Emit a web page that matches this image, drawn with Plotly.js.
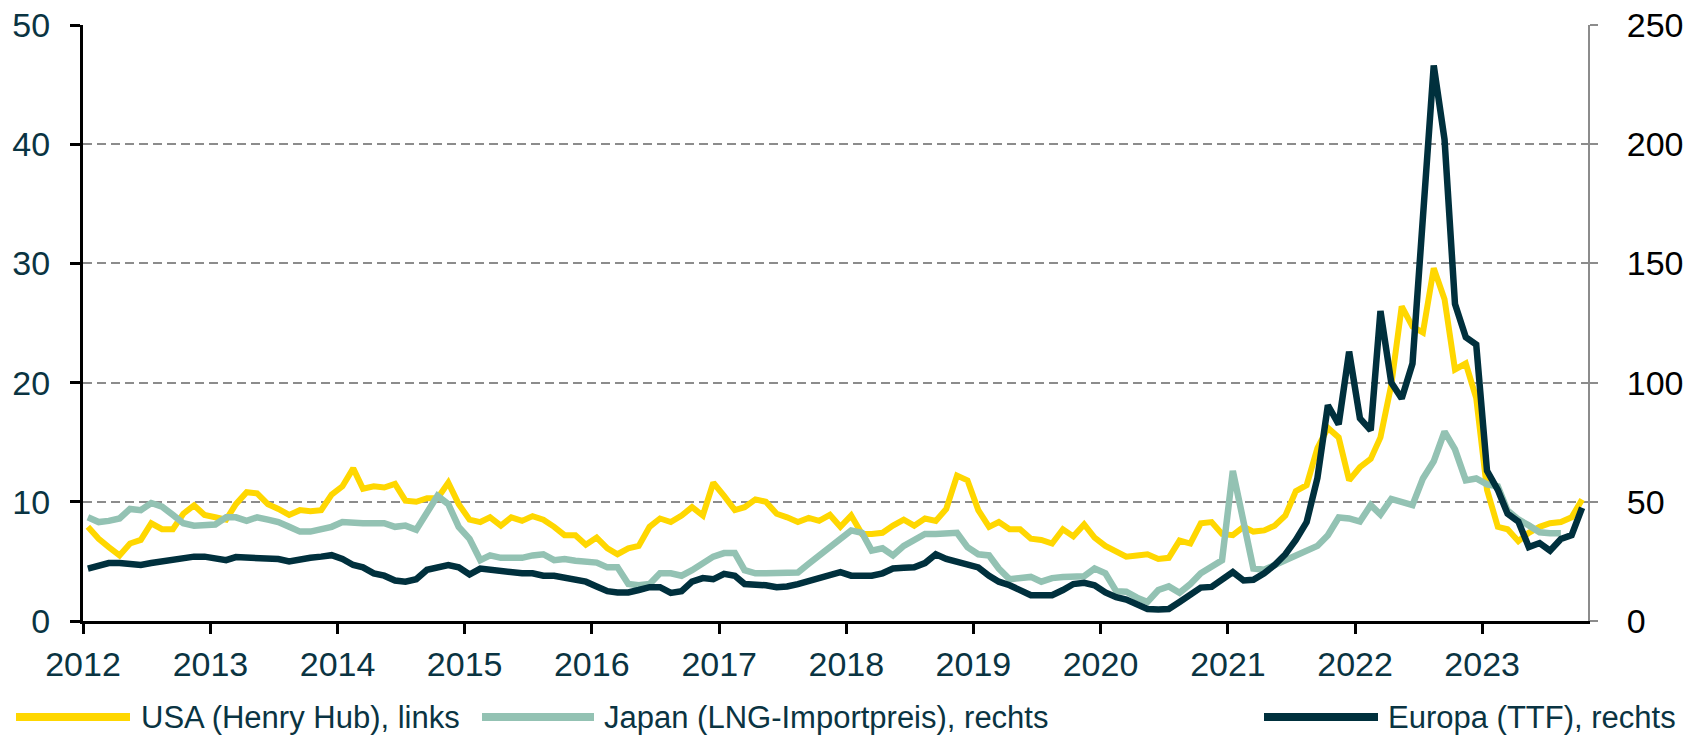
<!DOCTYPE html>
<html><head><meta charset="utf-8">
<script src="https://cdn.plot.ly/plotly-3.0.1.min.js"></script>
<style>html,body{margin:0;padding:0;background:#fff;}#chart{width:1684px;height:738px;}</style>
</head><body><div id="chart"></div>
<script>
// Monthly data, January 2012 - October 2023 (EUR/MWh)
const startYear = 2012;
const startMonth = 1;

const usaHenryHub = [
  7.9,6.9,6.2,5.5,6.5,6.8,8.2,7.7,7.7,9.0,9.7,8.9,
  8.7,8.5,9.8,10.8,10.7,9.8,9.4,8.9,9.3,9.2,9.3,10.6,
  11.3,12.8,11.1,11.3,11.2,11.5,10.1,10.0,10.3,10.3,11.6,9.8,
  8.5,8.3,8.7,8.0,8.7,8.4,8.8,8.5,7.9,7.2,7.2,6.4,
  7.0,6.1,5.6,6.1,6.3,7.9,8.6,8.3,8.85,9.55,8.85,11.6,
  10.5,9.3,9.55,10.2,10.0,9.0,8.7,8.3,8.65,8.4,8.9,7.9,
  8.85,7.3,7.3,7.4,8.0,8.5,8.0,8.6,8.4,9.4,12.2,11.8,
  9.3,7.9,8.3,7.7,7.7,6.9,6.8,6.5,7.7,7.1,8.1,7.0,
  6.3,5.9,5.4,5.5,5.6,5.2,5.3,6.75,6.5,8.2,8.3,7.3,
  7.2,7.9,7.5,7.6,8.0,8.85,10.9,11.4,14.5,16.2,15.4,11.8,
  12.9,13.6,15.4,19.8,26.4,24.7,24.2,29.6,27.0,21.1,21.6,18.7,
  11.0,7.9,7.7,6.7,7.4,7.9,8.2,8.3,8.7,10.2
];

const japanLng = [
  43.5,41.5,42,43,47,46.5,49.5,48,44.5,41,40,40.3,
  40.5,43.5,43.5,42,43.5,42.5,41.5,39.5,37.5,37.5,38.5,39.5,
  41.5,41,41,41,41,39.5,40,38.3,45,52.5,49,39.5,
  34.5,25.5,27.5,26.5,26.5,26.5,27.5,28,25.5,26,25.3,25,
  24.5,22.5,22.5,15.5,15,15.5,20,20,19,21.3,24,27,
  28.5,28.5,21.3,20,20,20,20,20.3,24,27.5,31,35,
  38,37,29.5,30.5,27.5,31.5,34,36.5,36.5,36.5,37,31,
  28,27.5,22,17.5,18,18.5,16.5,18,18.5,18.8,18.8,22,
  20,12.5,12.3,9.8,8,13,14.5,11.8,15.5,20,23,25.5,
  63,42.5,22,21.5,23.5,26,28,29.5,31.5,36,43.4,43,
  41.7,48.6,44.7,51.2,50,48.6,59.8,67,79.4,72,59,59.8,
  57.3,56.5,46.3,42.6,40.1,37.2,36.8,36.8,null,null
];

const europaTtf = [
  22,23.5,24.3,24.3,24,23.5,24.3,25,25.2,26.5,27,27,
  26.5,25.5,26.8,26.5,26,26,26,25,26,26.5,27,27.6,
  26,23.5,22.5,20,19,17,16.5,17.5,21.5,22.5,23.5,22.5,
  19.5,22,21.5,21,20,20,20,19,19,18,17.3,16.5,
  14.5,12.5,12,12,13,14.2,14.2,11.8,12.5,16.5,18,17.5,
  19.8,19,15.5,15.5,15,14.2,14.5,15.5,16.8,17.5,19,20.5,
  19,19,19,20,22,22.3,22.5,24.3,28,26,25,24,
  22.5,19,16.5,15,13,10.8,10.8,10.8,13,15.5,16,15,
  12,10,9,7.3,5,4.8,5,8,11,14,14.3,17,
  20.5,17,17.3,20,23.5,28,34,41.5,60,90.5,82.5,113,
  85,80,130,100,93.3,108,171,233,202,133,119,116,
  63,55,45,41.7,31,32.7,29.5,34.4,36,47.5
];

const seriesNames = ['USA (Henry Hub), links', 'Japan (LNG-Importpreis), rechts', 'Europa (TTF), rechts'];
const yearLabels = ['2012','2013','2014','2015','2016','2017','2018','2019','2020','2021','2022','2023'];
const leftTicks = [0,10,20,30,40,50];
const rightTicks = [0,50,100,150,200,250];

// month positions (mid-month, as the source plots between the monthly tick marks)
const months = usaHenryHub.map((_, i) => {
  const m = startMonth - 1 + i;
  const y = startYear + Math.floor(m / 12);
  const mm = (m % 12) + 1;
  return y + '-' + String(mm).padStart(2, '0') + '-15';
});

const colors = {usa: '#FFD700', japan: '#93C2B3', europe: '#00303D', text: '#0A3442', grid: '#8C8C8C'};
const FONT = 'Liberation Sans, Arial, sans-serif';
const FS = 34;
const LFS = 31;

const traces = [
  {x: months, y: usaHenryHub, name: seriesNames[0], type: 'scatter', mode: 'lines', yaxis: 'y',
   line: {color: colors.usa, width: 6}},
  {x: months, y: japanLng, name: seriesNames[1], type: 'scatter', mode: 'lines', yaxis: 'y2',
   line: {color: colors.japan, width: 6.5}},
  {x: months, y: europaTtf, name: seriesNames[2], type: 'scatter', mode: 'lines', yaxis: 'y2',
   line: {color: colors.europe, width: 6.5}}
];

const W = 1684, H = 738;
const M = {l: 83, r: 96, t: 25, b: 117};
const pw = W - M.l - M.r, ph = H - M.t - M.b;
const px2x = px => (px - M.l) / pw;
const py2y = py => (H - M.b - py) / ph;

// custom legend (long line samples as in the source)
const legendItems = [
  {x0: 16, x1: 130, tx: 139, color: colors.usa, name: seriesNames[0]},
  {x0: 482, x1: 594, tx: 602, color: colors.japan, name: seriesNames[1]},
  {x0: 1264, x1: 1378, tx: 1386, color: colors.europe, name: seriesNames[2]}
];
const legY = py2y(717);
const shapes = legendItems.map(it => ({type: 'line', xref: 'paper', yref: 'paper',
  x0: px2x(it.x0), x1: px2x(it.x1), y0: legY, y1: legY, line: {color: it.color, width: 8}}));
const annotations = legendItems.map(it => ({xref: 'paper', yref: 'paper', x: px2x(it.tx), y: legY,
  xanchor: 'left', yanchor: 'middle', showarrow: false, text: it.name,
  font: {family: FONT, size: LFS, color: colors.text}}));

const layout = {
  width: W, height: H,
  margin: {l: M.l, r: M.r, t: M.t, b: M.b, pad: 0, autoexpand: false},
  paper_bgcolor: '#ffffff', plot_bgcolor: '#ffffff',
  showlegend: false,
  font: {family: FONT, size: FS, color: colors.text},
  xaxis: {
    type: 'date', range: ['2012-01-01', '2023-11-01'],
    tickmode: 'array', tickvals: yearLabels.map(y => y + '-01-01'), ticktext: yearLabels,
    showgrid: false, zeroline: false,
    showline: true, linecolor: '#000000', linewidth: 3,
    ticks: 'outside', ticklen: 10, tickwidth: 3, tickcolor: '#000000',
    ticklabelstandoff: 1,
    tickfont: {family: FONT, size: FS, color: colors.text}
  },
  yaxis: {
    range: [0, 50], tickmode: 'array', tickvals: leftTicks,
    showgrid: true, gridcolor: colors.grid, gridwidth: 2, griddash: '9px,5px',
    zeroline: false, showline: true, linecolor: '#000000', linewidth: 3,
    ticks: 'outside', ticklen: 10, tickwidth: 3, tickcolor: '#000000',
    ticklabelstandoff: 13,
    tickfont: {family: FONT, size: FS, color: colors.text}
  },
  yaxis2: {
    range: [0, 250], tickmode: 'array', tickvals: rightTicks,
    overlaying: 'y', side: 'right', showgrid: false, zeroline: false,
    showline: true, linecolor: colors.grid, linewidth: 2,
    ticks: 'outside', ticklen: 8, tickwidth: 2, tickcolor: colors.grid,
    ticklabelstandoff: 22,
    tickfont: {family: FONT, size: FS, color: '#000000'}
  },
  shapes: shapes,
  annotations: annotations
};

Plotly.newPlot('chart', traces, layout, {staticPlot: true, displayModeBar: false});
</script>
</body></html>
